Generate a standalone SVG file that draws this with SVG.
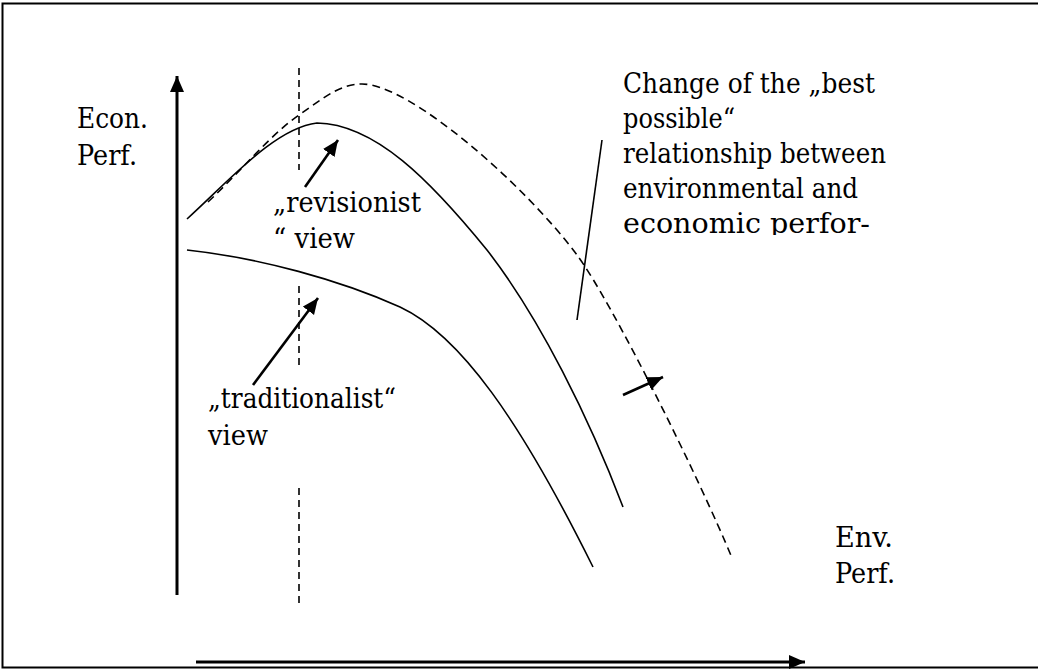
<svg xmlns="http://www.w3.org/2000/svg" width="1038" height="670" viewBox="0 0 1038 670">
  <style>
    text { font-family: "DejaVu Serif", "Liberation Serif", serif; font-size: 27px; fill: #000; }
    .curve { fill: none; stroke: #000; stroke-width: 1.6; }
    .dash { fill: none; stroke: #000; stroke-width: 1.6; stroke-dasharray: 8 5; }
    .vdash { fill: none; stroke: #000; stroke-width: 1.6; stroke-dasharray: 7 5; }
    .arr { fill: none; stroke: #000; stroke-width: 2.6; }
    .axis { fill: none; stroke: #000; stroke-width: 3; }
  </style>
  <defs>
    <marker id="ah" markerUnits="userSpaceOnUse" markerWidth="18" markerHeight="16" refX="16" refY="7" orient="auto">
      <path d="M0,0 L16,7 L0,14 Z" fill="#000"/>
    </marker>
    <clipPath id="clipText">
      <rect x="600" y="60" width="320" height="175"/>
    </clipPath>
  </defs>

  <rect id="frame" x="2.5" y="3.5" width="1050" height="664" fill="#fff" stroke="#000" stroke-width="2"/>

  <g id="axes">
    <line class="axis" x1="177" y1="595" x2="177" y2="76" marker-end="url(#ah)"/>
    <line class="axis" x1="196" y1="662" x2="805" y2="662" marker-end="url(#ah)"/>
  </g>

  <g id="reference-line">
    <line class="vdash" x1="299" y1="68" x2="299" y2="170"/>
    <line class="vdash" x1="299" y1="286" x2="299" y2="369"/>
    <line class="vdash" x1="299" y1="488" x2="299" y2="608"/>
  </g>

  <g id="curves">
    <path id="revisionist-curve" class="curve" d="M187,219 C230,180 275,128 317,123 C375,124 430,180 487,250 C540,318 590,420 623,507"/>
    <path id="traditionalist-curve" class="curve" d="M187,250 C260,258 340,280 400,307 C460,335 520,420 593,567"/>
    <path id="best-curve" class="dash" d="M208,202 C240,172 270,135 299,115 C325,97 340,84 362,84 C410,84 525,185 577,255 C612,302 700,480 732,558"/>
  </g>

  <g id="connectors">
    <line class="arr" x1="305" y1="187" x2="338" y2="140" marker-end="url(#ah)"/>
    <line class="arr" x1="253" y1="385" x2="318" y2="298" marker-end="url(#ah)"/>
    <line class="arr" x1="623" y1="395" x2="663" y2="377" marker-end="url(#ah)"/>
    <line class="curve" x1="602" y1="140" x2="577" y2="320"/>
  </g>

  <g id="label-econ">
    <text x="77" y="128" textLength="71" lengthAdjust="spacingAndGlyphs">Econ.</text>
    <text x="77" y="165" textLength="60" lengthAdjust="spacingAndGlyphs">Perf.</text>
  </g>
  <g id="label-env">
    <text x="835" y="547" textLength="58" lengthAdjust="spacingAndGlyphs">Env.</text>
    <text x="835" y="583" textLength="60" lengthAdjust="spacingAndGlyphs">Perf.</text>
  </g>
  <g id="label-revisionist">
    <text x="273" y="212" textLength="148" lengthAdjust="spacingAndGlyphs">„revisionist</text>
    <text x="273" y="248" textLength="82" lengthAdjust="spacingAndGlyphs">“ view</text>
  </g>
  <g id="label-traditionalist">
    <text x="208" y="408" textLength="188" lengthAdjust="spacingAndGlyphs">„traditionalist“</text>
    <text x="208" y="445" textLength="60" lengthAdjust="spacingAndGlyphs">view</text>
  </g>
  <g id="label-change" clip-path="url(#clipText)">
    <text x="623" y="93" textLength="252" lengthAdjust="spacingAndGlyphs">Change of the „best</text>
    <text x="623" y="128" textLength="112" lengthAdjust="spacingAndGlyphs">possible“</text>
    <text x="623" y="163" textLength="263" lengthAdjust="spacingAndGlyphs">relationship between</text>
    <text x="623" y="198" textLength="235" lengthAdjust="spacingAndGlyphs">environmental and</text>
    <text x="623" y="233" textLength="247" lengthAdjust="spacingAndGlyphs">economic perfor-</text>
  </g>
</svg>
